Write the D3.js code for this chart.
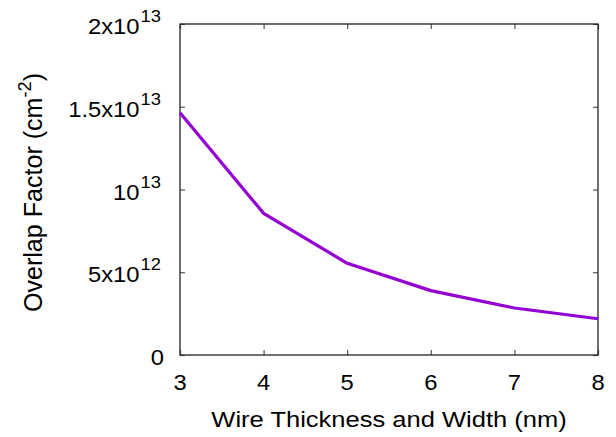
<!DOCTYPE html>
<head>
  <meta charset="utf-8">
  <title>Overlap factor</title>
  <script src="https://d3js.org/d3.v7.min.js"></script>
  <style type="text/css">
    body {margin: 0; background: #fff;}
    text {font-family: 'Liberation Sans', Arial, sans-serif; fill: #000;}
    .tickLabel {font-size: 22px;}
    .axisTitle {font-size: 22px;}
  </style>
</head>
<body>
  <div id="viz"></div>
</body>
<script type="text/javascript">

  // wire thickness and width (nm)
  const thickness = [3, 4, 5, 6, 7, 8];
  // overlap factor (cm^-2)
  const overlap = [1.464e13, 8.56e12, 5.54e12, 3.89e12, 2.84e12, 2.19e12];

  const xTicks = [3, 4, 5, 6, 7, 8];
  const yTicks = [0, 5e12, 1e13, 1.5e13, 2e13];
  const yTickBase = ["0", "5x10", "10", "1.5x10", "2x10"];
  const yTickExp = ["", "12", "13", "13", "13"];

  const FULLW = 616;
  const FULLH = 437;
  const MARGIN = { top: 24, right: 18, bottom: 82, left: 180 };
  const W = FULLW - MARGIN.left - MARGIN.right;
  const H = FULLH - MARGIN.top - MARGIN.bottom;

  //the reference glyphs are a bit wider than Liberation Sans
  const TITLESTRETCH = 1.16;
  const TICKSTRETCH = 1.08;

  const x = d3.scaleLinear().domain([3, 8]).range([0, W]);
  const y = d3.scaleLinear().domain([0, 2e13]).range([H, 0]);

  const svg = d3.select("#viz").append("svg")
    .attr("width", FULLW)
    .attr("height", FULLH);

  svg.append("rect").attr("width", FULLW).attr("height", FULLH).attr("fill", "#fff");

  const g = svg.append("g")
    .attr("transform", "translate(" + MARGIN.left + "," + MARGIN.top + ")");

  //inward ticks on all four sides
  const tickStyle = function (sel) {
    sel.select(".domain").remove();
    sel.selectAll("line").attr("stroke", "#555").attr("stroke-width", 1.2);
    sel.selectAll("text").remove();
  };
  g.append("g").attr("transform", "translate(0," + H + ")")
    .call(d3.axisBottom(x).tickValues(xTicks).tickSize(-5)).call(tickStyle);
  g.append("g")
    .call(d3.axisTop(x).tickValues(xTicks).tickSize(-5)).call(tickStyle);
  g.append("g")
    .call(d3.axisLeft(y).tickValues(yTicks).tickSize(-5)).call(tickStyle);
  g.append("g").attr("transform", "translate(" + W + ",0)")
    .call(d3.axisRight(y).tickValues(yTicks).tickSize(-5)).call(tickStyle);

  g.append("rect")
    .attr("width", W).attr("height", H)
    .attr("fill", "none")
    .attr("stroke", "#222")
    .attr("stroke-width", 1.3);

  //x tick labels
  g.selectAll(".xlab").data(xTicks).enter().append("text")
    .attr("class", "tickLabel")
    .attr("text-anchor", "middle")
    .attr("transform", d => "translate(" + x(d) + "," + (H + 35) + ") scale(" + TICKSTRETCH + ",1)")
    .text(d => d);

  //y tick labels with superscripts
  const ylab = g.selectAll(".ylab").data(yTicks).enter().append("text")
    .attr("class", "tickLabel")
    .attr("text-anchor", "end")
    .attr("transform", d => "translate(" + (d === 0 ? -16 : -19) + "," + (y(d) + 10) + ") scale(" + TICKSTRETCH + ",1)");
  ylab.append("tspan").text((d, i) => yTickBase[i]);
  ylab.append("tspan")
    .attr("dx", 1)
    .attr("dy", -12)
    .style("font-size", "17px")
    .text((d, i) => yTickExp[i]);

  //data line
  const line = d3.line().x((d, i) => x(thickness[i])).y(d => y(d));
  g.append("path")
    .datum(overlap)
    .attr("d", line)
    .attr("fill", "none")
    .attr("stroke", "#9400d3")
    .attr("stroke-width", 3.2)
    .attr("stroke-linejoin", "round");

  //axis titles
  g.append("text")
    .attr("class", "axisTitle")
    .attr("text-anchor", "middle")
    .attr("transform", "translate(" + (W / 2) + "," + (H + 72) + ") scale(" + TITLESTRETCH + ",1)")
    .text("Wire Thickness and Width (nm)");

  const yt = g.append("text")
    .attr("class", "axisTitle")
    .attr("text-anchor", "middle")
    .attr("transform", "translate(" + (-MARGIN.left + 42) + "," + (H / 2 + 3) + ") rotate(-90) scale(1.14,1.2)");
  yt.append("tspan").text("Overlap Factor (cm");
  yt.append("tspan").attr("dy", -9).style("font-size", "16px").text("-2");
  yt.append("tspan").attr("dy", 9).text(")");

</script>
</html>
